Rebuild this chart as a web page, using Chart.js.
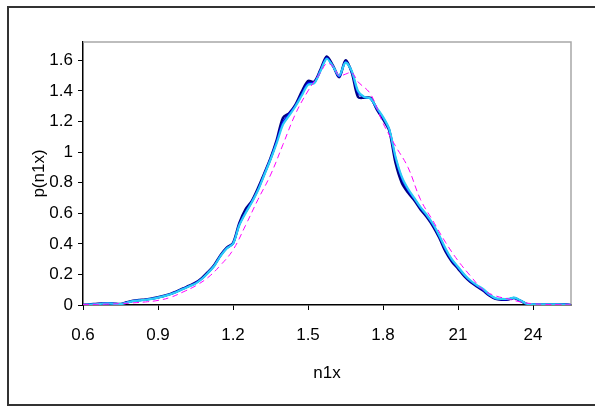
<!DOCTYPE html>
<html>
<head>
<meta charset="utf-8">
<script src="https://cdn.jsdelivr.net/npm/chart.js@4.4.1/dist/chart.umd.min.js"></script>
<style>
  body { margin: 0; background: #fff; }
  #wrap { position: relative; width: 595px; height: 408px; }
</style>
</head>
<body>
<div id="wrap"><canvas id="mainChart" width="595" height="408"></canvas></div>
<script>
// x positions shared by the three measured curves
const xs = [0.600, 0.625, 0.650, 0.675, 0.700, 0.725, 0.750, 0.775, 0.800, 0.825,
            0.850, 0.875, 0.900, 0.925, 0.950, 0.975, 1.000, 1.025, 1.050, 1.075,
            1.100, 1.125, 1.150, 1.175, 1.200, 1.225, 1.250, 1.275, 1.300, 1.325,
            1.350, 1.375, 1.400, 1.425, 1.450, 1.475, 1.500, 1.525, 1.550, 1.575,
            1.600, 1.625, 1.650, 1.675, 1.700, 1.725, 1.750, 1.775, 1.800, 1.825,
            1.850, 1.875, 1.900, 1.925, 1.950, 1.975, 2.000, 2.025, 2.050, 2.075,
            2.100, 2.125, 2.150, 2.175, 2.200, 2.225, 2.250, 2.275, 2.300, 2.325,
            2.350, 2.375, 2.400, 2.425, 2.450, 2.475, 2.500, 2.525, 2.550];

const cyanY = [0.000, 0.002, 0.005, 0.008, 0.010, 0.008, 0.006, 0.015, 0.025, 0.030,
               0.034, 0.040, 0.048, 0.058, 0.070, 0.085, 0.105, 0.122, 0.140, 0.170,
               0.210, 0.255, 0.320, 0.370, 0.400, 0.520, 0.600, 0.670, 0.750, 0.850,
               0.950, 1.060, 1.180, 1.240, 1.300, 1.370, 1.440, 1.450, 1.530, 1.610,
               1.560, 1.500, 1.585, 1.530, 1.400, 1.360, 1.350, 1.290, 1.230, 1.150,
               0.970, 0.840, 0.760, 0.700, 0.640, 0.590, 0.530, 0.455, 0.370, 0.300,
               0.250, 0.200, 0.160, 0.130, 0.105, 0.070, 0.045, 0.040, 0.040, 0.048,
               0.030, 0.008, 0.005, 0.004, 0.004, 0.004, 0.004, 0.003, 0.000];

const blueY = [0.000, 0.003, 0.006, 0.009, 0.011, 0.008, 0.006, 0.016, 0.026, 0.031,
               0.035, 0.041, 0.049, 0.059, 0.071, 0.087, 0.106, 0.124, 0.143, 0.172,
               0.212, 0.258, 0.322, 0.372, 0.402, 0.525, 0.605, 0.675, 0.755, 0.855,
               0.955, 1.070, 1.195, 1.250, 1.305, 1.380, 1.450, 1.455, 1.535, 1.615,
               1.560, 1.495, 1.590, 1.525, 1.390, 1.360, 1.350, 1.285, 1.225, 1.145,
               0.960, 0.830, 0.750, 0.695, 0.635, 0.585, 0.525, 0.450, 0.362, 0.295,
               0.245, 0.195, 0.155, 0.127, 0.100, 0.066, 0.042, 0.037, 0.038, 0.046,
               0.028, 0.007, 0.005, 0.004, 0.004, 0.004, 0.004, 0.003, 0.000];

const navyY = [0.000, 0.004, 0.007, 0.010, 0.012, 0.009, 0.007, 0.018, 0.028, 0.033,
               0.036, 0.043, 0.051, 0.061, 0.073, 0.089, 0.108, 0.126, 0.146, 0.176,
               0.216, 0.262, 0.326, 0.375, 0.405, 0.535, 0.625, 0.680, 0.765, 0.860,
               0.960, 1.080, 1.225, 1.255, 1.310, 1.395, 1.465, 1.460, 1.540, 1.625,
               1.565, 1.490, 1.600, 1.520, 1.360, 1.355, 1.355, 1.280, 1.215, 1.140,
               0.930, 0.800, 0.735, 0.685, 0.625, 0.575, 0.515, 0.440, 0.350, 0.285,
               0.238, 0.188, 0.150, 0.122, 0.095, 0.062, 0.040, 0.035, 0.036, 0.045,
               0.027, 0.006, 0.004, 0.004, 0.004, 0.004, 0.004, 0.003, 0.000];

// fitted curve (dashed magenta)
const fitX = [0.60, 0.65, 0.70, 0.75, 0.80, 0.85, 0.90, 0.95, 1.00, 1.05,
              1.10, 1.15, 1.20, 1.25, 1.30, 1.35, 1.40, 1.45, 1.50, 1.55,
              1.575, 1.60, 1.625, 1.65, 1.675, 1.70, 1.75, 1.80, 1.85, 1.90,
              1.95, 2.00, 2.05, 2.10, 2.15, 2.20, 2.25, 2.30, 2.35, 2.40,
              2.45, 2.50, 2.55];
const fitY = [0.002, 0.004, 0.006, 0.009, 0.014, 0.020, 0.030, 0.050, 0.085, 0.125,
              0.180, 0.260, 0.360, 0.520, 0.690, 0.850, 1.050, 1.250, 1.400, 1.520,
              1.580, 1.560, 1.500, 1.510, 1.520, 1.460, 1.380, 1.190, 1.040, 0.900,
              0.690, 0.550, 0.410, 0.290, 0.190, 0.100, 0.060, 0.040, 0.020, 0.008,
              0.004, 0.002, 0.001];

const xTickValues = [0.6, 0.9, 1.2, 1.5, 1.8, 2.1, 2.4];
const xTickLabels = ['0.6', '0.9', '1.2', '1.5', '1.8', '21', '24'];
const yTickValues = [0, 0.2, 0.4, 0.6, 0.8, 1, 1.2, 1.4, 1.6];
const yTickLabels = ['0', '0.2', '0.4', '0.6', '0.8', '1', '1.2', '1.4', '1.6'];

const FONT = 'Liberation Sans, Arial, sans-serif';

function pts(xv, yv) { return xv.map((x, i) => ({ x: x, y: yv[i] })); }

// frame round the whole picture and grey top/right edge of the plot area
const framePlugin = {
    id: 'frame',
    beforeDatasetsDraw(chart) {
        const { ctx, chartArea: a } = chart;
        ctx.save();
        ctx.strokeStyle = '#a8a8a8';
        ctx.lineWidth = 1.5;
        ctx.beginPath();
        ctx.moveTo(a.left, a.top);
        ctx.lineTo(a.right, a.top);
        ctx.lineTo(a.right, a.bottom);
        ctx.stroke();
        ctx.restore();
    },
    afterDraw(chart) {
        const ctx = chart.ctx;
        ctx.save();
        ctx.strokeStyle = '#333';
        ctx.lineWidth = 2;
        ctx.strokeRect(8, 7, 600, 398);
        ctx.restore();
    }
};

Chart.defaults.font.family = FONT;
Chart.defaults.color = '#000';

const chart = new Chart(document.getElementById('mainChart').getContext('2d'), {
    type: 'line',
    data: {
        datasets: [
            { data: pts(xs, cyanY), borderColor: '#2ccdf6', borderWidth: 2.2, pointRadius: 0, tension: 0.3, order: 1 },
            { data: pts(xs, blueY), borderColor: '#0000ff', borderWidth: 2, pointRadius: 0, tension: 0.3, order: 2 },
            { data: pts(xs, navyY), borderColor: '#000080', borderWidth: 2.5, pointRadius: 0, tension: 0.3, order: 3 },
            { data: pts(fitX, fitY), borderColor: '#ff00ff', borderWidth: 1, borderDash: [6, 4], pointRadius: 0, tension: 0.4, order: 0 }
        ]
    },
    options: {
        responsive: false,
        animation: false,
        devicePixelRatio: 1,
        layout: { padding: { left: 0, top: 42, right: 24, bottom: 0 } },
        plugins: { legend: { display: false }, tooltip: { enabled: false } },
        scales: {
            x: {
                type: 'linear', min: 0.6, max: 2.552,
                afterFit: s => { s.height = 103; },
                afterBuildTicks: s => { s.ticks = xTickValues.map(v => ({ value: v })); },
                grid: { drawOnChartArea: false, drawTicks: true, tickLength: 5, color: '#000' },
                border: { color: '#000', width: 1.5 },
                ticks: {
                    autoSkip: false, maxRotation: 0, padding: 15,
                    font: { size: 17 }, color: '#000',
                    callback: v => { const i = xTickValues.findIndex(t => Math.abs(t - v) < 1e-6); return i >= 0 ? xTickLabels[i] : ''; }
                },
                title: { display: true, text: 'n1x', font: { size: 17 }, color: '#000', padding: { top: 0, bottom: 24 } }
            },
            y: {
                type: 'linear', min: 0, max: 1.72,
                afterFit: s => { s.width = 83; },
                afterBuildTicks: s => { s.ticks = yTickValues.map(v => ({ value: v })); },
                grid: { drawOnChartArea: false, drawTicks: true, tickLength: 5, color: '#000' },
                border: { color: '#000', width: 1.5 },
                ticks: {
                    padding: 5, font: { size: 17 }, color: '#000',
                    callback: v => { const i = yTickValues.findIndex(t => Math.abs(t - v) < 1e-6); return i >= 0 ? yTickLabels[i] : ''; }
                },
                title: { display: true, text: 'p(n1x)', font: { size: 17 }, color: '#000', padding: { top: 29, bottom: 0 } }
            }
        }
    },
    plugins: [framePlugin]
});
</script>
</body>
</html>
